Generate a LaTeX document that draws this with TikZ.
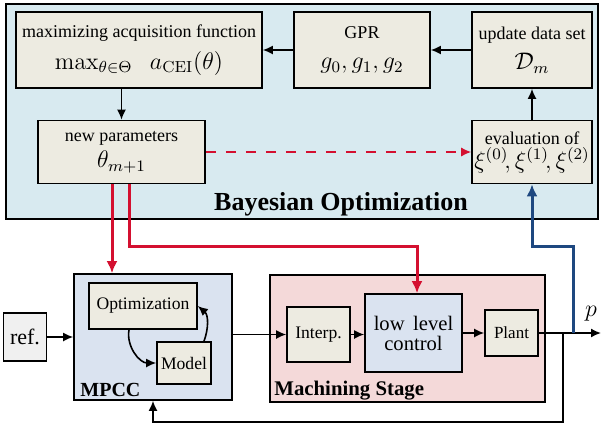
\documentclass[tikz,border=0pt]{standalone}
\usepackage[no-math]{fontspec}
\setmainfont{Liberation Serif}
\usetikzlibrary{calc, positioning, arrows.meta}
\usepackage{xcolor}
\definecolor{bobg}{RGB}{216, 234, 240}
\definecolor{boxbeige}{RGB}{237, 235, 225}
\definecolor{mpccblue}{RGB}{218, 227, 240}
\definecolor{machpink}{RGB}{244, 217, 217}
\definecolor{refgray}{RGB}{240, 240, 240}
\definecolor{paramred}{RGB}{212, 16, 48}
\definecolor{measblue}{RGB}{30, 72, 128}

\newcommand{\smalltxt}{\fontsize{9}{11}\selectfont}
\newcommand{\bigmath}{\fontsize{12}{14}\selectfont}

\begin{document}
\begin{tikzpicture}[x=0.5pt, y=-0.5pt,
    block/.style={draw, line width=0.8pt, fill=boxbeige, align=center, inner sep=1pt},
    stage/.style={draw, line width=0.8pt},
    arr/.style={-{Latex[length=5pt, width=4.5pt]}, line width=0.8pt},
    redarr/.style={-{Latex[length=6pt, width=5.5pt]}, paramred, line width=1.5pt},
    bluearr/.style={-{Latex[length=6pt, width=5.5pt]}, measblue, line width=1.5pt}]
    % Canvas - 603 x 428 px
    \useasboundingbox (0,0) rectangle (603,428);

    % Bayesian optimization loop
    \draw[fill=bobg, line width=0.6pt] (6,4) rectangle (598,219);

    \node[block, minimum width=123pt, minimum height=38pt] (maxacq) at (139,50)
        {\smalltxt maximizing acquisition function\\[4pt]
         \bigmath $\max_{\theta\in\Theta}\;\; a_{\mathrm{CEI}}(\theta)$};
    \node[block, minimum width=68pt, minimum height=38pt] (gpr) at (362,50)
        {\smalltxt GPR\\[3pt] \bigmath $g_0, g_1, g_2$};
    \node[block, minimum width=60pt, minimum height=38pt] (upd) at (532,50)
        {\smalltxt update data set\\[3pt] \bigmath $\mathcal{D}_m$};
    \node[block, minimum width=83.5pt, minimum height=31.5pt] (newpar) at (121.5,152)
        {\smalltxt new parameters\\[1pt] \bigmath $\theta_{m+1}$};
    \node[block, minimum width=60pt, minimum height=31.5pt] (eval) at (532,152)
        {\smalltxt evaluation of\\[0pt] \bigmath $\xi^{(0)}\!,\xi^{(1)}\!,\xi^{(2)}$};

    \node[font=\fontsize{13}{15}\selectfont\bfseries] (bolabel) at (341,204)
        {Bayesian Optimization};

    \draw[arr] (upd) -- (gpr);
    \draw[arr] (gpr) -- (maxacq);
    \draw[arr] (maxacq.south -| newpar) -- (newpar.north);
    \draw[arr] (eval) -- (upd);
    \draw[paramred, dashed, line width=0.7pt, dash pattern=on 5pt off 5pt,
        -{Latex[length=5pt, width=4.5pt]}] (newpar) -- (eval);

    % Control loop
    \node[stage, fill=refgray, minimum width=18pt, minimum height=24pt,
        font=\fontsize{11}{13}\selectfont] (ref) at (25,337) {ref.};

    \node[stage, fill=mpccblue, minimum width=79pt, minimum height=63pt] (mpcc) at (153,337) {};
    \node[block, minimum width=54pt, minimum height=23pt, font=\fontsize{8.8}{10}\selectfont]
        (opt) at (143,306) {Optimization};
    \node[block, minimum width=27pt, minimum height=21pt, font=\fontsize{8.8}{10}\selectfont]
        (model) at (184,363) {Model};
    \node[anchor=base west, inner sep=0pt, font=\fontsize{10}{12}\selectfont\bfseries] (mpcclabel)
        at (80,396) {MPCC};

    \node[stage, fill=machpink, minimum width=137.5pt, minimum height=63.5pt] (mach) at (407.5,338.5) {};
    \node[block, minimum width=31.5pt, minimum height=27.5pt, font=\fontsize{8.8}{10}\selectfont]
        (interp) at (318.5,334.5) {Interp.};
    \node[block, fill=mpccblue, minimum width=48.5pt, minimum height=39pt,
        font=\fontsize{10.3}{10}\selectfont] (llc) at (413.5,333) {low\, level\\control};
    \node[block, minimum width=26.5pt, minimum height=23pt, font=\fontsize{8.5}{10}\selectfont]
        (plant) at (511.5,333) {Plant};
    \node[anchor=base west, inner sep=0pt, font=\fontsize{10.4}{12}\selectfont\bfseries] (machlabel)
        at (274,395) {Machining Stage};

    \coordinate (tapfb) at (563,333);
    \coordinate (tapbo) at (573,333);
    \coordinate (pout) at (601,333);
    \node[font=\fontsize{13}{15}\selectfont] (plab) at (591,314) {$p$};

    \draw[arr] (ref) -- (ref -| mpcc.west);
    \draw[arr] (mpcc.east |- interp) -- (interp);
    \draw[arr] (interp) -- (interp -| llc.west);
    \draw[arr] (llc) -- (plant);
    \draw[arr] (plant) -- (pout);
    \draw[arr] ([xshift=-7pt]opt.south) to[out=-100, in=180] (model.west);
    \draw[arr] ([xshift=10pt]model.north) to[out=70, in=-40] (opt.east);
    \draw[arr] (tapfb) -- (tapfb |- 0,422) -| (mpcc.south);

    % Parameter and measurement links
    \draw[redarr] ([xshift=-4.75pt]newpar.south) -- ([xshift=-4.75pt]newpar.south |- mpcc.north);
    \draw[redarr] ([xshift=3.75pt]newpar.south) -- ([xshift=3.75pt]newpar.south |- 0,246)
        -| ([xshift=1.75pt]llc.north);
    \draw[bluearr] (tapbo) -- (tapbo |- 0,246) -| (eval.south);

\end{tikzpicture}
\end{document}
